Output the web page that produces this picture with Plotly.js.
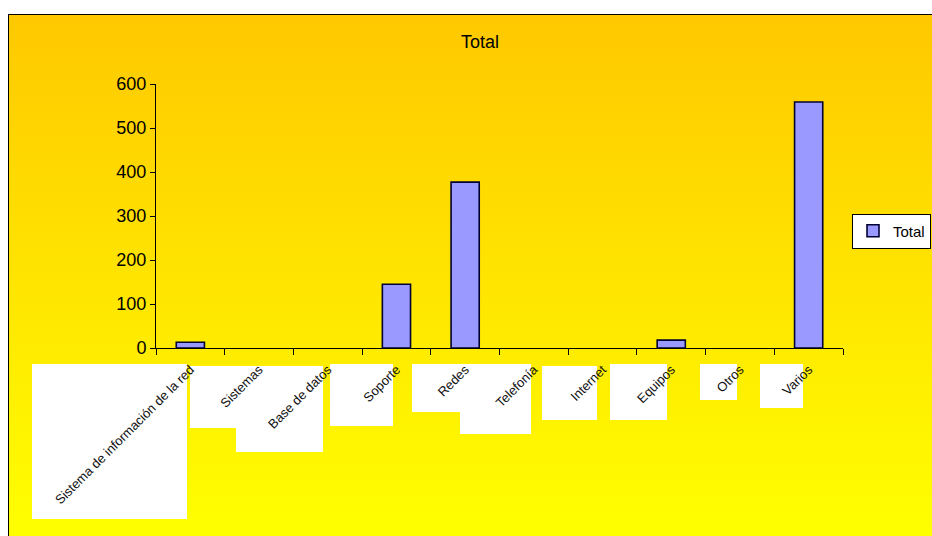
<!DOCTYPE html>
<html>
<head>
<meta charset="utf-8">
<script src="https://cdn.plot.ly/plotly-3.0.1.min.js"></script>
<style>
  html, body { margin: 0; padding: 0; background: #ffffff; }
  #frame {
    position: absolute; left: 8px; top: 14px; width: 924px; height: 522px;
    border-left: 1px solid #000; border-top: 1px solid #000;
    background: linear-gradient(to bottom, #FFC800 0%, #FFE400 50%, #FFFF00 100%);
  }
  #chart { position: absolute; left: 0; top: 0; width: 932px; height: 536px; }
</style>
</head>
<body>
<div id="frame"></div>
<div id="chart"></div>
<script>
// Categories and totals
const categories = [
  "Sistema de información de la red",
  "Sistemas",
  "Base de datos",
  "Soporte",
  "Redes",
  "Telefonía",
  "Internet",
  "Equipos",
  "Otros",
  "Varios"
];
const totals = [13, 0, 0, 145, 377, 0, 0, 18, 0, 559];
const seriesName = "Total";
const yTicks = [0, 100, 200, 300, 400, 500, 600];

// Plot area in pixels (for the white label backgrounds)
const plotLeft = 156, plotRight = 843, plotTop = 84, plotBottom = 348;
const px2x = p => (p - plotLeft) / (plotRight - plotLeft);
const px2y = p => (plotBottom - p) / (plotBottom - plotTop);

// White boxes behind the slanted category labels: [x0, y0, x1, y1] in px
const labelBoxes = [
  [32, 364, 187, 519],
  [190, 366, 237, 428],
  [236, 366, 323, 452],
  [330, 364, 393, 426],
  [412, 364, 460, 412],
  [460, 364, 531, 434],
  [542, 366, 597, 420],
  [610, 364, 667, 420],
  [700, 364, 737, 400],
  [760, 364, 803, 408]
];
const shapes = labelBoxes.map(b => ({
  type: "rect", xref: "paper", yref: "paper", layer: "below",
  x0: px2x(b[0]), x1: px2x(b[2]), y0: px2y(b[3]), y1: px2y(b[1]),
  fillcolor: "#ffffff", line: { width: 0 }
}));

const trace = {
  type: "bar",
  x: categories,
  y: totals,
  name: seriesName,
  marker: {
    color: "#9999FF",
    // empty categories get no outline, so nothing is drawn for them
    line: { color: "#000033", width: totals.map(v => (v > 0 ? 1.6 : 0)) }
  },
  showlegend: true,
  hoverinfo: "x+y"
};

const layout = {
  width: 932, height: 536,
  paper_bgcolor: "rgba(0,0,0,0)",
  plot_bgcolor: "rgba(0,0,0,0)",
  margin: { l: plotLeft, r: 932 - plotRight, t: plotTop, b: 536 - plotBottom, pad: 0, autoexpand: false },
  font: { family: "Arial, Liberation Sans, sans-serif", color: "#000" },
  title: {
    text: "Total", font: { size: 18, color: "#000" },
    xref: "container", x: 0.515, xanchor: "center",
    yref: "container", y: 1 - 42 / 536, yanchor: "middle"
  },
  bargap: 0.59,
  showlegend: true,
  legend: {
    xref: "container", x: 852 / 932, xanchor: "left",
    yref: "container", y: 1 - 231 / 536, yanchor: "middle",
    bgcolor: "#ffffff", bordercolor: "#000", borderwidth: 1,
    font: { size: 15, color: "#000" },
    itemwidth: 30
  },
  xaxis: {
    type: "category",
    showline: true, linecolor: "#000", linewidth: 1,
    ticks: "outside", tickson: "boundaries", ticklen: 6, tickcolor: "#000",
    tickangle: -45,
    ticklabelstandoff: 8,
    tickfont: { size: 13, color: "#111" },
    showgrid: false, zeroline: false, fixedrange: true
  },
  yaxis: {
    range: [0, 600],
    tickvals: yTicks,
    ticktext: yTicks.map(String),
    showline: true, linecolor: "#000", linewidth: 1,
    ticks: "outside", ticklen: 5, tickcolor: "#000",
    tickfont: { size: 18, color: "#000" },
    showgrid: false, zeroline: false, fixedrange: true
  },
  shapes: shapes
};

Plotly.newPlot("chart", [trace], layout, { displayModeBar: false, staticPlot: true });
</script>
</body>
</html>
